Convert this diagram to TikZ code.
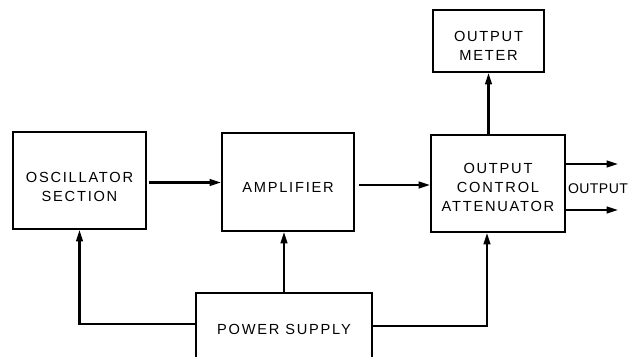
\documentclass[tikz,border=0pt]{standalone}
\usepackage{fontspec}
\setmainfont[LetterSpace=12]{Liberation Sans}
\newfontfamily\outfont[LetterSpace=3]{Liberation Sans}
\usetikzlibrary{arrows.meta, positioning, calc}

\begin{document}
\begin{tikzpicture}[x=0.03cm, y=-0.03cm,
            blk/.style={draw, line width=1.8pt, align=center, inner sep=0pt,
                        font=\fontsize{12.5}{16.2}\selectfont},
            arr/.style={line width=1.8pt, -{Triangle[length=3.4mm, width=2mm]}}]
            \clip (0,0) rectangle (630,356);
            \node[blk, minimum width=3.99cm, minimum height=2.91cm, text height=1.29cm] (osc) at (79.5,180.5) {OSCILLATOR\\SECTION};
            \node[blk, minimum width=3.96cm, minimum height=2.94cm, text height=0.63cm] (amp) at (288,182) {AMPLIFIER};
            \node[blk, minimum width=4.02cm, minimum height=2.91cm, text height=1.68cm] (ctrl) at (498,183.5) {OUTPUT\\CONTROL\\ATTENUATOR};
            \node[blk, minimum width=3.33cm, minimum height=1.86cm, text height=1.17cm] (meter) at (488.5,41) {OUTPUT\\METER};
            \node[blk, minimum width=5.28cm, minimum height=2.16cm] (power) at (284,329) {POWER SUPPLY};
            \node[font=\outfont\fontsize{12}{16}\selectfont, inner sep=0pt] (out) at (598,189) {OUTPUT};
            \coordinate (o1) at (618,164);
            \coordinate (o2) at (618,210);
            \draw[arr] ($(osc.east)+(2,2)$) -- ($(osc.east -| amp.west)+(0,2)$);
            \draw[arr] ($(amp.east)+(4,3)$) -- ($(amp.east -| ctrl.west)+(0,3)$);
            \draw[arr] (meter.south |- ctrl.north) -- (meter.south);
            \draw[arr] (o1 -| ctrl.east) -- (o1);
            \draw[arr] (o2 -| ctrl.east) -- (o2);
            \draw[arr] (power.north) -- (power.north |- amp.south);
            \draw[arr] ($(power.west)+(0,-5)$) -| (osc.south);
            \draw[arr] ($(power.east)+(0,-3)$) -| ($(ctrl.south)+(-11,0)$);
        \end{tikzpicture}
\end{document}
